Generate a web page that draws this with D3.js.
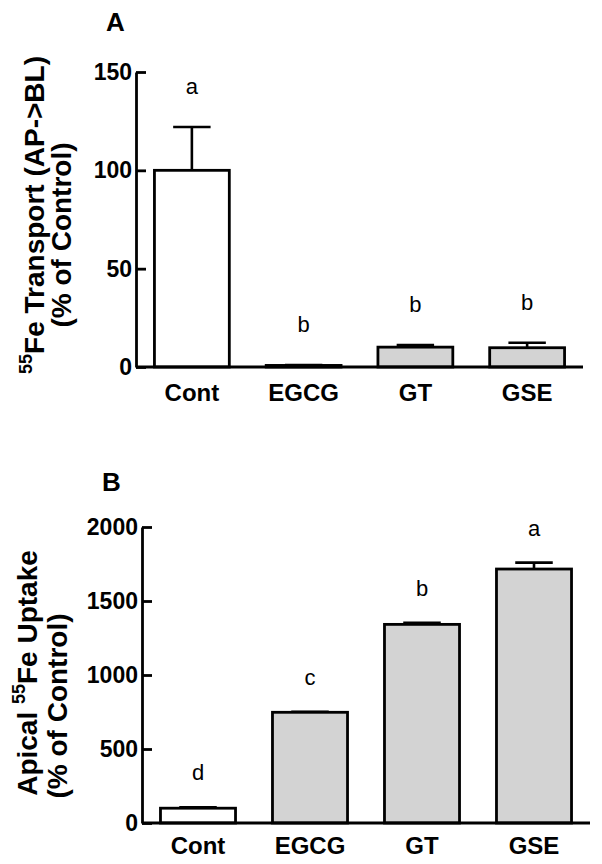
<!DOCTYPE html>
<html><head><meta charset="utf-8">
<script src="https://cdn.jsdelivr.net/npm/d3@7"></script>
<style>
body{margin:0;background:#fff;}
svg text{font-family:"Liberation Sans",Arial,Helvetica,sans-serif;fill:#000;}
</style>
</head><body>
<svg id="chart" width="602" height="864"></svg>
<script>
// ---- data ----
const categories = ["Cont", "EGCG", "GT", "GSE"];
const barFills = ["#ffffff", "#d3d3d3", "#d3d3d3", "#d3d3d3"];

const transportMean = [100, 0.8, 10.1, 9.8];
const transportSem = [22, 0.2, 1.0, 2.5];
const transportLetters = ["a", "b", "b", "b"];
const transportTicks = [0, 50, 100, 150];

const uptakeMean = [100, 748, 1342, 1716];
const uptakeSem = [6, 4, 10, 43];
const uptakeLetters = ["d", "c", "b", "a"];
const uptakeTicks = [0, 500, 1000, 1500, 2000];

const svg = d3.select("#chart");

function panel(cfg) {
  const g = svg.append("g");
  const x = d3.scaleBand().domain(categories).range([cfg.x0, cfg.x1])
    .paddingInner(0.33).paddingOuter(0.165);
  const y = d3.scaleLinear().domain([0, d3.max(cfg.ticks)]).range([cfg.yBottom, cfg.yTop]);
  const data = categories.map((c, i) => ({c, m: cfg.mean[i], s: cfg.sem[i], l: cfg.letters[i], f: barFills[i]}));

  // bars
  g.selectAll("rect.bar").data(data).join("rect")
    .attr("x", d => x(d.c))
    .attr("width", x.bandwidth())
    .attr("y", d => y(d.m))
    .attr("height", d => y(0) - y(d.m))
    .attr("fill", d => d.f)
    .attr("stroke", "#000").attr("stroke-width", 2.8);

  // error bars (upper only)
  const capW = x.bandwidth() * 0.5;
  g.selectAll("line.err").data(data).join("line")
    .attr("x1", d => x(d.c) + x.bandwidth() / 2).attr("x2", d => x(d.c) + x.bandwidth() / 2)
    .attr("y1", d => y(d.m)).attr("y2", d => y(d.m + d.s))
    .attr("stroke", "#000").attr("stroke-width", 2.6);
  g.selectAll("line.cap").data(data).join("line")
    .attr("x1", d => x(d.c) + x.bandwidth() / 2 - capW / 2).attr("x2", d => x(d.c) + x.bandwidth() / 2 + capW / 2)
    .attr("y1", d => y(d.m + d.s)).attr("y2", d => y(d.m + d.s))
    .attr("stroke", "#000").attr("stroke-width", 2.6);

  // significance letters
  g.selectAll("text.let").data(data).join("text")
    .attr("x", d => x(d.c) + x.bandwidth() / 2)
    .attr("y", d => y(d.m + d.s) - cfg.letterGap)
    .attr("text-anchor", "middle").attr("font-size", 22)
    .text(d => d.l);

  // y axis (ticks pointing inward)
  const yAxis = d3.axisLeft(y).tickValues(cfg.ticks).tickSizeInner(-10).tickSizeOuter(0).tickPadding(4).tickFormat(d3.format("d"));
  const ya = g.append("g").attr("transform", `translate(${cfg.x0},0)`).call(yAxis);
  ya.select(".domain").attr("stroke", "#000").attr("stroke-width", 2.8);
  ya.selectAll(".tick line").attr("stroke", "#000").attr("stroke-width", 2.8);
  ya.selectAll(".tick text").attr("font-size", 23).attr("font-weight", "bold")
    .attr("font-family", '"Liberation Sans",Arial,sans-serif').attr("fill", "#000");

  // x axis
  const xAxis = d3.axisBottom(x).tickSize(0).tickPadding(0);
  const xa = g.append("g").attr("transform", `translate(0,${cfg.yBottom})`).call(xAxis);
  xa.select(".domain").attr("stroke", "#000").attr("stroke-width", 2.8)
    .attr("d", `M${cfg.x0},0H${cfg.x1}`);
  xa.selectAll(".tick text").attr("font-size", 24).attr("font-weight", "bold")
    .attr("font-family", '"Liberation Sans",Arial,sans-serif').attr("fill", "#000")
    .attr("dy", null).attr("y", cfg.xLabelBase - cfg.yBottom);

  // panel title
  g.append("text").attr("x", cfg.titleX).attr("y", cfg.titleY)
    .attr("font-size", 26).attr("font-weight", "bold").text(cfg.title);

  // y label lines
  cfg.ylabel.forEach(line => {
    const t = g.append("text")
      .attr("transform", `translate(${line.x},${line.cy}) rotate(-90)`)
      .attr("text-anchor", "middle").attr("font-size", 28).attr("font-weight", "bold");
    line.parts.forEach(p => {
      if (p.sup) {
        t.append("tspan").attr("font-size", 18).attr("dy", -12).text(p.t);
      } else {
        t.append("tspan").attr("dy", p.after ? 12 : 0).text(p.t);
      }
    });
  });
}

panel({
  x0: 136, x1: 583, yTop: 72, yBottom: 367,
  ticks: transportTicks, mean: transportMean, sem: transportSem, letters: transportLetters,
  letterGap: 33, xLabelBase: 401,
  title: "A", titleX: 106, titleY: 31,
  ylabel: [
    {x: 44, cy: 215, parts: [{t: "55", sup: true}, {t: "Fe Transport (AP->BL)", after: true}]},
    {x: 71, cy: 235, parts: [{t: "(% of Control)"}]}
  ]
});

panel({
  x0: 142, x1: 590, yTop: 527, yBottom: 823,
  ticks: uptakeTicks, mean: uptakeMean, sem: uptakeSem, letters: uptakeLetters,
  letterGap: 27, xLabelBase: 854,
  title: "B", titleX: 102, titleY: 491,
  ylabel: [
    {x: 37, cy: 673, parts: [{t: "Apical "}, {t: "55", sup: true}, {t: "Fe Uptake", after: true}]},
    {x: 67, cy: 706, parts: [{t: "(% of Control)"}]}
  ]
});
</script>
</body></html>
